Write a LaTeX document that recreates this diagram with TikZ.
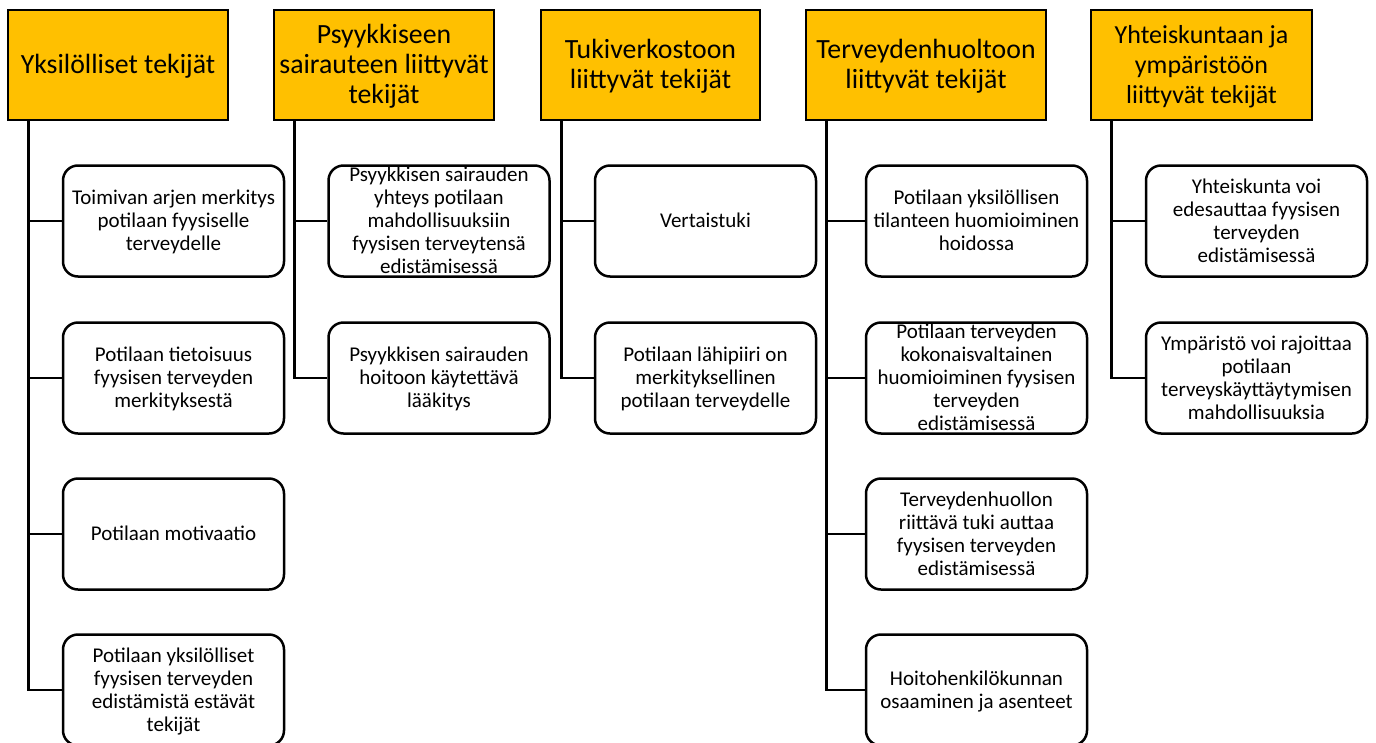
\documentclass[tikz,border=0pt]{standalone}
\usepackage{fontspec}
\setmainfont{Carlito}
\definecolor{hdrgold}{HTML}{FFC000}
\newcommand{\lftxt}[1]{\parbox[c][100pt][c]{215pt}{\centering\vspace*{4pt}\fontsize{21pt}{23pt}\selectfont\makebox[215pt]{\begin{tabular}{@{}c@{}}#1\end{tabular}}\par}}
\newcommand{\hdtxt}[2][27.8pt]{\parbox[c][100pt][c]{200pt}{\centering\vspace*{5pt}\fontsize{#1}{30pt}\selectfont\makebox[200pt]{\begin{tabular}{@{}c@{}}#2\end{tabular}}\par}}
\begin{document}
\begin{tikzpicture}[x=1pt,y=-1pt,
  hdr/.style={draw, line width=2.8pt, fill=hdrgold, minimum height=110pt, inner sep=0pt},
  leaf/.style={draw, line width=2.5pt, rounded corners=15pt, fill=white, minimum width=221pt, minimum height=111pt, inner sep=0pt},
  conn/.style={line width=2.5pt}]
\useasboundingbox (0,0) rectangle (1376,742);
\clip (0,0) rectangle (1376,742);
\fill[white] (0,0) rectangle (1376,742);

% headers
\node[hdr, minimum width=220pt] (H1) at (118,65) {\hdtxt{Yksilölliset tekijät}};
\node[hdr, minimum width=220pt] (H2) at (384,65) {\hdtxt{Psyykkiseen\\sairauteen liittyvät\\tekijät}};
\node[hdr, minimum width=219pt] (H3) at (650.5,65) {\hdtxt{Tukiverkostoon\\liittyvät tekijät}};
\node[hdr, minimum width=240pt] (H4) at (926,65) {\hdtxt{Terveydenhuoltoon\\liittyvät tekijät}};
\node[hdr, minimum width=221pt] (H5) at (1201.5,65) {\hdtxt[26pt]{Yhteiskuntaan ja\\ympäristöön\\liittyvät tekijät}};

% column 1
\node[leaf] (L11) at (173.5,221) {\lftxt{Toimivan arjen merkitys\\potilaan fyysiselle\\terveydelle}};
\node[leaf] (L12) at (173.5,378) {\lftxt{Potilaan tietoisuus\\fyysisen terveyden\\merkityksestä}};
\node[leaf] (L13) at (173.5,534) {\lftxt{Potilaan motivaatio}};
\node[leaf] (L14) at (173.5,690) {\lftxt{Potilaan yksilölliset\\fyysisen terveyden\\edistämistä estävät\\tekijät}};
% column 2
\node[leaf] (L21) at (439,221) {\lftxt{Psyykkisen sairauden\\yhteys potilaan\\mahdollisuuksiin\\fyysisen terveytensä\\edistämisessä}};
\node[leaf] (L22) at (439,378) {\lftxt{Psyykkisen sairauden\\hoitoon käytettävä\\lääkitys}};
% column 3
\node[leaf] (L31) at (705.5,221) {\lftxt{Vertaistuki}};
\node[leaf] (L32) at (705.5,378) {\lftxt{Potilaan lähipiiri on\\merkityksellinen\\potilaan terveydelle}};
% column 4
\node[leaf] (L41) at (976.5,221) {\lftxt{Potilaan yksilöllisen\\tilanteen huomioiminen\\hoidossa}};
\node[leaf] (L42) at (976.5,378) {\lftxt{Potilaan terveyden\\kokonaisvaltainen\\huomioiminen fyysisen\\terveyden\\edistämisessä}};
\node[leaf] (L43) at (976.5,534) {\lftxt{Terveydenhuollon\\riittävä tuki auttaa\\fyysisen terveyden\\edistämisessä}};
\node[leaf] (L44) at (976.5,690) {\lftxt{Hoitohenkilökunnan\\osaaminen ja asenteet}};
% column 5
\node[leaf] (L51) at (1256.5,221) {\lftxt{Yhteiskunta voi\\edesauttaa fyysisen\\terveyden\\edistämisessä}};
\node[leaf] (L52) at (1256.5,378) {\lftxt{Ympäristö voi rajoittaa\\potilaan\\terveyskäyttäytymisen\\mahdollisuuksia}};

% connectors
\foreach \h/\l in {H1/L11,H1/L12,H1/L13,H1/L14,H2/L21,H2/L22,H3/L31,H3/L32,H4/L41,H4/L42,H4/L43,H4/L44,H5/L51,H5/L52}
  \draw[conn] ([xshift=22pt]\h.south west) |- (\l.west);
\end{tikzpicture}
\end{document}
